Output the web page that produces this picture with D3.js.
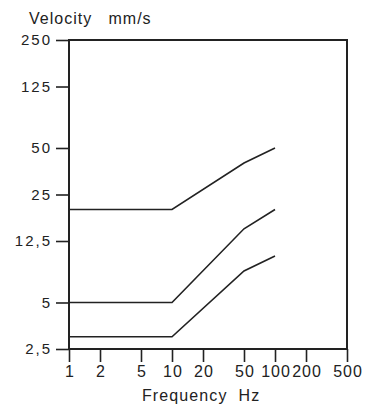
<!DOCTYPE html>
<html>
<head>
<meta charset="utf-8">
<script src="https://cdn.jsdelivr.net/npm/d3@7"></script>
<style>
html,body{margin:0;padding:0;background:#fff;}
svg{display:block;}
text{font-family:"Liberation Sans",Arial,sans-serif;fill:#222;}
</style>
</head>
<body>
<svg id="chart" width="371" height="408"></svg>
<script>
const xTicks = [1, 2, 5, 10, 20, 50, 100, 200, 500];
const xTickLabels = ["1", "2", "5", "10", "20", "50", "100", "200", "500"];
const yTicks = [2.5, 5, 12.5, 25, 50, 125, 250];
const yTickLabels = ["2,5", "5", "12,5", "25", "50", "125", "250"];
const frequency = [1, 10, 50, 100];
const line1 = [20, 20, 40, 50];
const line2 = [5, 5, 15, 20];
const line3 = [3, 3, 8, 10];
const seriesList = [line1, line2, line3];

(function () {
const svg = d3.select("#chart");
const pl = 69, pr = 347, pt = 40, pb = 349;

const x = d3.scaleLog().domain([1, 500]).range([pl, pr]);
const y = d3.scaleLog().domain([2.5, 250]).range([pb, pt]);

// frame
svg.append("rect")
  .attr("x", pl).attr("y", pt)
  .attr("width", pr - pl).attr("height", pb - pt)
  .attr("fill", "none").attr("stroke", "#222").attr("stroke-width", 2);

// y axis
const yAxis = d3.axisLeft(y)
  .tickValues(yTicks)
  .tickFormat((d, i) => yTickLabels[i])
  .tickSize(13).tickSizeOuter(0).tickPadding(4);
const gy = svg.append("g").attr("transform", `translate(${pl},0)`).call(yAxis);
gy.select(".domain").remove();
gy.selectAll(".tick line").attr("stroke", "#222").attr("stroke-width", 1.6);
gy.selectAll(".tick text")
  .attr("font-size", 15)
  .attr("font-family", "Liberation Sans, Arial, sans-serif")
  .attr("fill", "#222")
  .style("letter-spacing", "2px");

// x axis
const xAxis = d3.axisBottom(x)
  .tickValues(xTicks)
  .tickFormat((d, i) => xTickLabels[i])
  .tickSize(13).tickSizeOuter(0).tickPadding(4);
const gx = svg.append("g").attr("transform", `translate(0,${pb})`).call(xAxis);
gx.select(".domain").remove();
gx.selectAll(".tick line").attr("stroke", "#222").attr("stroke-width", 1.6);
gx.selectAll(".tick text")
  .attr("font-size", 16)
  .attr("font-family", "Liberation Sans, Arial, sans-serif")
  .attr("fill", "#222")
  .attr("dx", "0.5px")
  .style("letter-spacing", "1px");

// lines
const lineGen = d3.line()
  .x((d, i) => x(frequency[i]))
  .y(d => y(d));
seriesList.forEach(s => {
  svg.append("path")
    .datum(s)
    .attr("d", lineGen)
    .attr("fill", "none")
    .attr("stroke", "#222")
    .attr("stroke-width", 1.6);
});

// titles
svg.append("text")
  .attr("x", 29).attr("y", 24)
  .attr("font-size", 16)
  .style("letter-spacing", "1px")
  .style("white-space", "pre")
  .text("Velocity   mm/s");

svg.append("text")
  .attr("x", 142).attr("y", 401)
  .attr("font-size", 16)
  .style("letter-spacing", "1.1px")
  .style("white-space", "pre")
  .text("Frequency  Hz");
})();
</script>
</body>
</html>
